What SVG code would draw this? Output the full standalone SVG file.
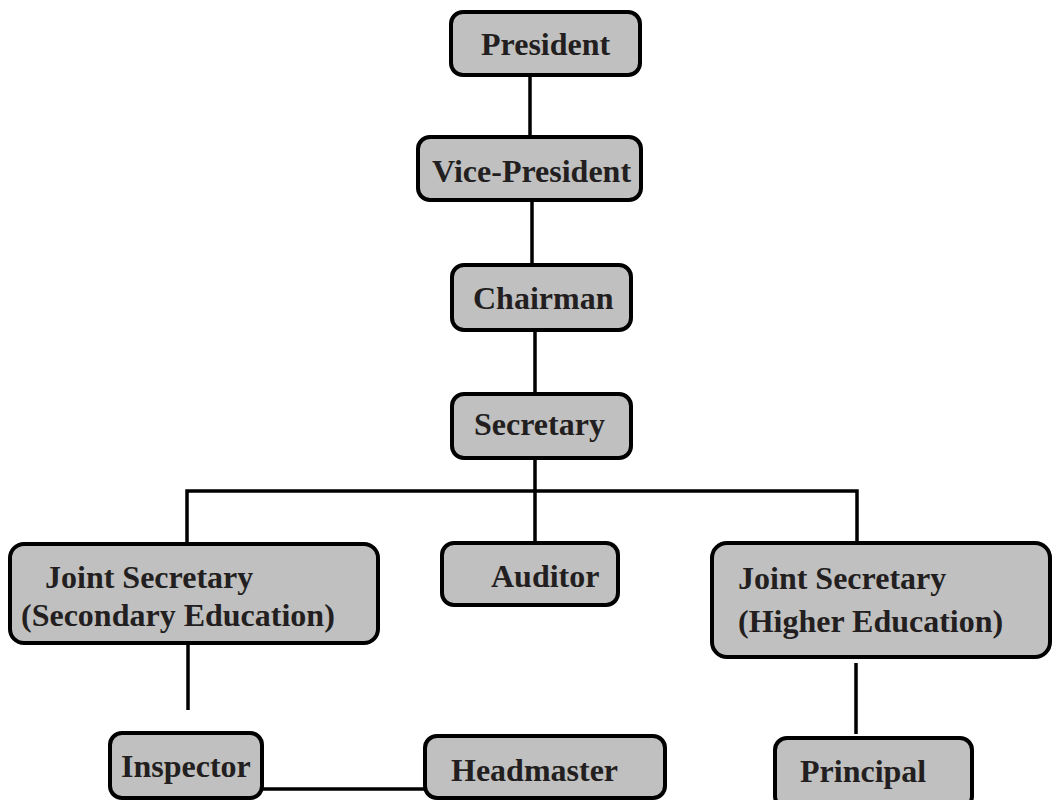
<svg xmlns="http://www.w3.org/2000/svg" width="1054" height="800" viewBox="0 0 1054 800">
<style>
.box{fill:#c0c0c0;stroke:#000;stroke-width:4}
.lbl{font-family:"Liberation Serif","Times New Roman",serif;font-weight:bold;font-size:32px;fill:#231f20}
.con{stroke:#000;stroke-width:3.5;fill:none}
</style>
<rect width="1054" height="800" fill="#fff"/>
<g id="connectors">
<line class="con" x1="530" y1="75" x2="530" y2="137"/>
<line class="con" x1="532" y1="200" x2="532" y2="265"/>
<line class="con" x1="535" y1="330" x2="535" y2="394"/>
<line class="con" x1="535" y1="459" x2="535" y2="543"/>
<polyline class="con" points="187,544 187,491 857,491 857,543"/>
<line class="con" x1="188" y1="643" x2="188" y2="710"/>
<line class="con" x1="856" y1="663" x2="856" y2="734"/>
<line class="con" x1="262" y1="789" x2="425" y2="789"/>
</g>
<g id="president"><rect class="box" x="451" y="12" width="189" height="63" rx="12"/><text class="lbl" x="481" y="55">President</text></g>
<g id="vice-president"><rect class="box" x="418" y="137" width="223" height="63" rx="12"/><text class="lbl" x="432" y="182">Vice-President</text></g>
<g id="chairman"><rect class="box" x="452" y="265" width="179" height="65" rx="12"/><text class="lbl" x="473" y="309">Chairman</text></g>
<g id="secretary"><rect class="box" x="452" y="394" width="179" height="64" rx="12"/><text class="lbl" x="474" y="435">Secretary</text></g>
<g id="js-secondary"><rect class="box" x="10" y="544" width="368" height="99" rx="14"/><text class="lbl" x="45" y="588">Joint Secretary</text><text class="lbl" x="21" y="626">(Secondary Education)</text></g>
<g id="auditor"><rect class="box" x="442" y="543" width="176" height="62" rx="12"/><text class="lbl" x="491" y="587">Auditor</text></g>
<g id="js-higher"><rect class="box" x="712" y="543" width="338" height="114" rx="15"/><text class="lbl" x="738" y="589">Joint Secretary</text><text class="lbl" x="738" y="632">(Higher Education)</text></g>
<g id="inspector"><rect class="box" x="110" y="733" width="152" height="65" rx="12"/><text class="lbl" x="121" y="777">Inspector</text></g>
<g id="headmaster"><rect class="box" x="425" y="736" width="240" height="62" rx="12"/><text class="lbl" x="451" y="781">Headmaster</text></g>
<g id="principal"><rect class="box" x="775" y="738" width="197" height="70" rx="12"/><text class="lbl" x="800" y="782">Principal</text></g>
</svg>
